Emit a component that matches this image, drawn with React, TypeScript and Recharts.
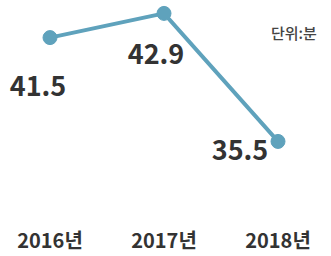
import React from "react";
import { LineChart, Line, XAxis, YAxis, LabelList } from "recharts";

const categories = ["2016년", "2017년", "2018년"];
const values = [41.5, 42.9, 35.5];
const unitLabel = "단위:분";

const data = categories.map((c, i) => ({ year: c, value: values[i] }));

const LABEL_OFFSETS = [
  { dx: -12, dy: 47 },
  { dx: -8, dy: 39 },
  { dx: -38, dy: 7 },
];

const FONT = "'Noto Sans CJK KR', 'Noto Sans', sans-serif";
const LINE_COLOR = "#5fa2bc";

const ValueLabel = (props: any) => {
  const { x, y, value, index } = props;
  const o = LABEL_OFFSETS[index] || { dx: 0, dy: 0 };
  return (
    <text
      x={x + o.dx}
      y={y + o.dy}
      textAnchor="middle"
      dominantBaseline="central"
      fontFamily={FONT}
      fontWeight={700}
      fontSize={27}
      fill="#333333"
    >
      {value}
    </text>
  );
};

export default function App() {
  return (
    <div style={{ position: "absolute", left: 0, top: 0, width: 331, height: 256, background: "#fff" }}>
      <LineChart
        width={331}
        height={256}
        data={data}
        margin={{ top: 3, right: 0, bottom: 0, left: 0 }}
      >
        <XAxis
          dataKey="year"
          axisLine={false}
          tickLine={false}
          tickSize={0}
          tickMargin={32}
          height={54}
          padding={{ left: 50, right: 53 }}
          interval={0}
          tick={{ fontFamily: FONT, fontWeight: 700, fontSize: 20, fill: "#333333" }}
        />
        <YAxis hide domain={[32, 43.5]} />
        <Line
          type="linear"
          dataKey="value"
          stroke={LINE_COLOR}
          strokeWidth={4}
          dot={{ r: 7, fill: LINE_COLOR, stroke: LINE_COLOR, strokeWidth: 1 }}
          isAnimationActive={false}
        >
          <LabelList dataKey="value" content={<ValueLabel />} />
        </Line>
      </LineChart>
      <div
        style={{
          position: "absolute",
          left: 271,
          top: 22,
          fontFamily: FONT,
          fontSize: 15,
          fontWeight: 500,
          color: "#444",
          lineHeight: "22px",
          whiteSpace: "nowrap",
        }}
      >
        {unitLabel}
      </div>
    </div>
  );
}
